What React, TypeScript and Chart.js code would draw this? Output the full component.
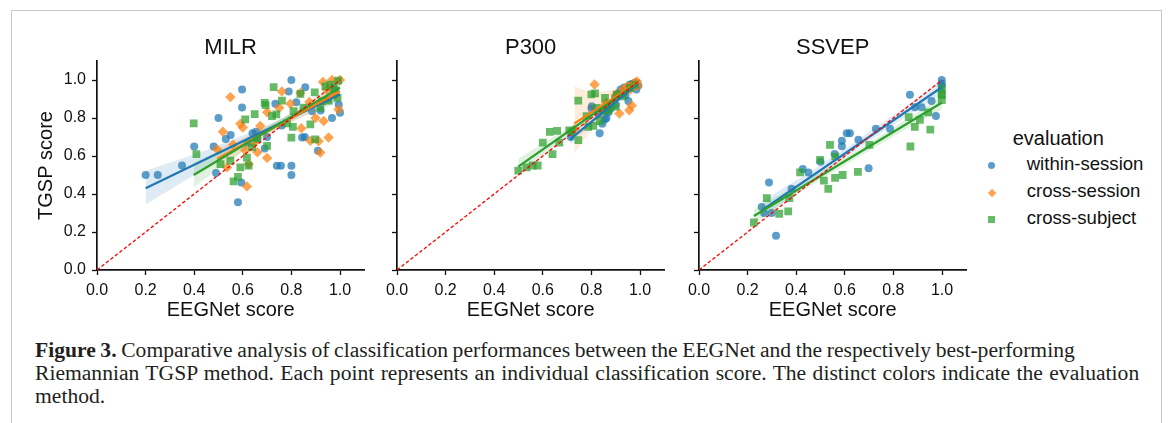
import React, { useEffect, useRef } from 'react';
import { Chart, registerables } from 'chart.js';

Chart.register(...registerables);

// ---------- tick values & labels ----------
const xTickValues = [0, 0.2, 0.4, 0.6, 0.8, 1.0];
const yTickValues = [0, 0.2, 0.4, 0.6, 0.8, 1.0];
const panelTitles = ['MILR', 'P300', 'SSVEP'];
const xAxisLabel = 'EEGNet score';
const yAxisLabel = 'TGSP score';
const legendTitle = 'evaluation';
const evaluationNames = ['within-session', 'cross-session', 'cross-subject'];
const diagonal = [[0, 0], [1, 1]];

// ---------- MILR ----------
const milrWithin = [[0.2,0.5],[0.25,0.5],[0.35,0.55],[0.4,0.65],[0.48,0.65],[0.49,0.51],[0.5,0.8],[0.53,0.69],[0.55,0.71],[0.594,0.46],[0.58,0.357],[0.597,0.95],[0.597,0.855],[0.62,0.67],[0.64,0.72],[0.654,0.727],[0.66,0.69],[0.69,0.64],[0.7,0.7],[0.734,0.875],[0.74,0.549],[0.757,0.549],[0.76,0.76],[0.789,0.94],[0.8,1.0],[0.8,0.549],[0.8,0.5],[0.82,0.883],[0.844,0.697],[0.855,0.70],[0.857,0.962],[0.885,0.836],[0.909,0.627],[0.92,0.84],[0.967,0.8],[0.98,0.95],[1.0,0.827],[0.995,0.87],[0.95,0.9]];
const milrCrossSession = [[0.494,0.636],[0.518,0.728],[0.535,0.54],[0.549,0.91],[0.56,0.66],[0.59,0.77],[0.6,0.75],[0.61,0.63],[0.617,0.44],[0.624,0.557],[0.645,0.667],[0.66,0.62],[0.672,0.758],[0.7,0.59],[0.7,0.83],[0.75,0.854],[0.761,0.94],[0.796,0.875],[0.837,0.932],[0.841,0.746],[0.874,0.885],[0.878,0.68],[0.899,0.8],[0.912,0.678],[0.919,0.618],[0.93,0.99],[0.933,0.784],[0.946,0.95],[0.953,0.697],[0.967,1.0],[0.98,0.923],[0.994,0.845],[1.0,1.0]];
const milrCrossSubject = [[0.398,0.772],[0.409,0.61],[0.508,0.557],[0.549,0.575],[0.562,0.467],[0.58,0.49],[0.59,0.54],[0.61,0.793],[0.617,0.592],[0.624,0.549],[0.638,0.645],[0.649,0.82],[0.658,0.693],[0.69,0.88],[0.694,0.868],[0.7,0.653],[0.727,0.962],[0.72,0.81],[0.738,0.819],[0.761,0.892],[0.782,0.772],[0.8,0.697],[0.809,0.836],[0.806,0.753],[0.837,0.927],[0.85,0.854],[0.878,0.767],[0.898,0.688],[0.896,0.935],[0.919,0.854],[0.926,0.889],[0.94,0.967],[0.96,0.976],[0.992,0.997],[0.99,0.906],[0.953,0.892],[0.974,0.958]];
const milrWithinFit = [[0.2,0.43],[1.0,0.925]];
const milrCrossSessionFit = [[0.494,0.585],[1.0,0.94]];
const milrCrossSubjectFit = [[0.398,0.5],[1.0,0.96]];
const milrWithinBandX = [0.2,0.45,0.7,0.85,1.0];
const milrWithinBandLo = [0.345,0.54,0.72,0.81,0.885];
const milrWithinBandHi = [0.523,0.63,0.76,0.855,0.965];
const milrCrossSessionBandX = [0.494,0.62,0.75,1.0];
const milrCrossSessionBandLo = [0.53,0.64,0.745,0.9];
const milrCrossSessionBandHi = [0.64,0.705,0.785,0.98];
const milrCrossSubjectBandX = [0.398,0.6,0.8,1.0];
const milrCrossSubjectBandLo = [0.435,0.625,0.79,0.925];
const milrCrossSubjectBandHi = [0.565,0.685,0.827,0.995];

// ---------- P300 ----------
const p300Within = [[0.715,0.7],[0.8,0.85],[0.802,0.862],[0.834,0.72],[0.845,0.77],[0.856,0.793],[0.862,0.8],[0.87,0.83],[0.88,0.85],[0.897,0.906],[0.91,0.93],[0.92,0.95],[0.935,0.96],[0.952,0.889],[0.959,0.976],[0.97,0.98],[0.98,0.985],[0.993,0.971],[0.985,0.95],[0.94,0.92],[0.9,0.87],[0.86,0.84],[0.83,0.82]];
const p300CrossSession = [[0.73,0.74],[0.813,0.976],[0.86,0.88],[0.9,0.92],[0.915,0.824],[0.93,0.95],[0.948,0.967],[0.956,0.841],[0.966,0.866],[0.975,0.98],[0.98,0.985],[0.987,0.993],[0.99,0.97],[0.96,0.95]];
const p300CrossSubject = [[0.499,0.523],[0.533,0.54],[0.558,0.55],[0.579,0.55],[0.6,0.67],[0.629,0.727],[0.64,0.61],[0.659,0.732],[0.668,0.67],[0.709,0.735],[0.721,0.726],[0.746,0.683],[0.746,0.892],[0.787,0.753],[0.78,0.81],[0.8,0.924],[0.815,0.93],[0.822,0.853],[0.808,0.758],[0.835,0.784],[0.849,0.836],[0.856,0.906],[0.863,0.862],[0.88,0.87],[0.904,0.923],[0.931,0.914],[0.959,0.958],[0.98,0.976],[0.9,0.86],[0.87,0.84]];
const p300WithinFit = [[0.712,0.688],[0.993,0.982]];
const p300CrossSessionFit = [[0.73,0.772],[0.993,0.99]];
const p300CrossSubjectFit = [[0.499,0.544],[0.98,0.975]];
const p300WithinBandX = [0.712,0.85,0.993];
const p300WithinBandLo = [0.66,0.82,0.97];
const p300WithinBandHi = [0.72,0.845,0.995];
const p300CrossSessionBandX = [0.73,0.8,0.9,0.993];
const p300CrossSessionBandLo = [0.613,0.74,0.88,0.97];
const p300CrossSessionBandHi = [0.967,0.93,0.95,1.01];
const p300CrossSubjectBandX = [0.499,0.75,0.98];
const p300CrossSubjectBandLo = [0.5,0.75,0.96];
const p300CrossSubjectBandHi = [0.585,0.785,0.99];

// ---------- SSVEP ----------
const ssvepWithin = [[0.258,0.331],[0.268,0.3],[0.288,0.46],[0.299,0.3],[0.317,0.18],[0.381,0.427],[0.427,0.532],[0.45,0.513],[0.5,0.57],[0.558,0.61],[0.588,0.651],[0.588,0.68],[0.608,0.72],[0.621,0.72],[0.656,0.685],[0.698,0.535],[0.728,0.744],[0.786,0.744],[0.868,0.923],[0.889,0.857],[0.916,0.857],[0.957,0.889],[0.975,0.81],[0.999,1.0],[0.999,0.967],[0.999,0.98]];
const ssvepCrossSubject = [[0.226,0.25],[0.279,0.378],[0.33,0.296],[0.367,0.308],[0.372,0.378],[0.416,0.514],[0.498,0.58],[0.514,0.47],[0.532,0.427],[0.539,0.659],[0.56,0.485],[0.561,0.597],[0.591,0.5],[0.654,0.517],[0.701,0.659],[0.863,0.805],[0.87,0.65],[0.888,0.753],[0.909,0.79],[0.943,0.83],[0.952,0.739],[0.999,0.894],[0.999,0.928],[0.999,0.955],[0.999,0.92]];
const ssvepWithinFit = [[0.258,0.314],[0.999,0.962]];
const ssvepCrossSubjectFit = [[0.226,0.284],[0.999,0.88]];
const ssvepWithinBandX = [0.258,0.45,0.65,0.85,0.999];
const ssvepWithinBandLo = [0.27,0.455,0.635,0.805,0.925];
const ssvepWithinBandHi = [0.36,0.51,0.68,0.86,1.0];
const ssvepCrossSubjectBandX = [0.226,0.45,0.65,0.85,0.999];
const ssvepCrossSubjectBandLo = [0.245,0.435,0.59,0.74,0.845];
const ssvepCrossSubjectBandHi = [0.32,0.48,0.63,0.79,0.915];

// ---------- styles ----------
const FONT = "'Liberation Sans', Arial, Helvetica, sans-serif";
const TEXT = '#111111';
const seriesStyle = [
  { rgb: '31,119,180', pointStyle: 'circle', radius: 4.0 },
  { rgb: '255,127,14', pointStyle: 'rectRot', radius: 5.2 },
  { rgb: '44,160,44', pointStyle: 'rect', radius: 5.5 },
];

type Series = { pts: number[][]; fit: number[][]; bx: number[]; lo: number[]; hi: number[] } | null;

const panels = [
  {
    title: panelTitles[0], left: 34, top: 21, width: 337, height: 301, yW: 63, yLabels: true,
    series: [
      { pts: milrWithin, fit: milrWithinFit, bx: milrWithinBandX, lo: milrWithinBandLo, hi: milrWithinBandHi },
      { pts: milrCrossSession, fit: milrCrossSessionFit, bx: milrCrossSessionBandX, lo: milrCrossSessionBandLo, hi: milrCrossSessionBandHi },
      { pts: milrCrossSubject, fit: milrCrossSubjectFit, bx: milrCrossSubjectBandX, lo: milrCrossSubjectBandLo, hi: milrCrossSubjectBandHi },
    ] as Series[],
  },
  {
    title: panelTitles[1], left: 380, top: 21, width: 291, height: 301, yW: 17, yLabels: false,
    series: [
      { pts: p300Within, fit: p300WithinFit, bx: p300WithinBandX, lo: p300WithinBandLo, hi: p300WithinBandHi },
      { pts: p300CrossSession, fit: p300CrossSessionFit, bx: p300CrossSessionBandX, lo: p300CrossSessionBandLo, hi: p300CrossSessionBandHi },
      { pts: p300CrossSubject, fit: p300CrossSubjectFit, bx: p300CrossSubjectBandX, lo: p300CrossSubjectBandLo, hi: p300CrossSubjectBandHi },
    ] as Series[],
  },
  {
    title: panelTitles[2], left: 682, top: 21, width: 291, height: 301, yW: 17, yLabels: false,
    series: [
      { pts: ssvepWithin, fit: ssvepWithinFit, bx: ssvepWithinBandX, lo: ssvepWithinBandLo, hi: ssvepWithinBandHi },
      null,
      { pts: ssvepCrossSubject, fit: ssvepCrossSubjectFit, bx: ssvepCrossSubjectBandX, lo: ssvepCrossSubjectBandLo, hi: ssvepCrossSubjectBandHi },
    ] as Series[],
  },
];

const toXY = (arr: number[][]) => arr.map(([x, y]) => ({ x, y }));

function buildDatasets(series: Series[]) {
  // listed from top-most to bottom-most (Chart.js draws index 0 last)
  const ds: any[] = [];
  ds.push({
    data: toXY(diagonal), showLine: true, borderColor: '#ff0000', borderWidth: 1.3,
    borderDash: [3.5, 2.2], pointRadius: 0, fill: false,
  });
  const order = [2, 1, 0];
  for (const i of order) {
    const s = series[i];
    if (!s) continue;
    ds.push({
      data: toXY(s.fit), showLine: true, borderColor: `rgb(${seriesStyle[i].rgb})`,
      borderWidth: 2.2, pointRadius: 0, fill: false,
    });
  }
  for (const i of order) {
    const s = series[i];
    if (!s) continue;
    const band = `rgba(${seriesStyle[i].rgb},0.15)`;
    ds.push({
      data: s.bx.map((x, k) => ({ x, y: s.hi[k] })), showLine: true, borderWidth: 0,
      borderColor: 'rgba(0,0,0,0)', pointRadius: 0, fill: '+1', backgroundColor: band,
    });
    ds.push({
      data: s.bx.map((x, k) => ({ x, y: s.lo[k] })), showLine: true, borderWidth: 0,
      borderColor: 'rgba(0,0,0,0)', pointRadius: 0, fill: false,
    });
    ds.push({
      data: toXY(s.pts), showLine: false, pointStyle: seriesStyle[i].pointStyle,
      pointRadius: seriesStyle[i].radius, pointBorderWidth: 0, borderWidth: 0,
      pointBackgroundColor: `rgba(${seriesStyle[i].rgb},0.72)`,
      backgroundColor: `rgba(${seriesStyle[i].rgb},0.72)`,
    });
  }
  return ds;
}

function Panel({ p }: { p: typeof panels[number] }) {
  const ref = useRef<HTMLCanvasElement | null>(null);
  useEffect(() => {
    if (!ref.current) return;
    const chartRight = 267.3 + p.yW; // x-range 0..1.1 spans 267.3 px
    const chart = new Chart(ref.current, {
      type: 'scatter',
      data: { datasets: buildDatasets(p.series) },
      options: {
        animation: false,
        responsive: false,
        events: [],
        layout: { padding: { left: 0, top: 0, bottom: 0, right: p.width - chartRight } },
        plugins: {
          legend: { display: false },
          tooltip: { enabled: false },
          title: {
            display: true, text: p.title, fullSize: false, color: TEXT,
            font: { family: FONT, size: 22, weight: 'normal' },
            padding: { top: 13.3, bottom: 0.3 },
          },
        },
        scales: {
          x: {
            type: 'linear', min: 0, max: 1.1,
            afterBuildTicks: (s: any) => { s.ticks = xTickValues.map((v) => ({ value: v })); },
            afterFit: (s: any) => { s.height = 52; },
            ticks: {
              callback: (v: any) => Number(v).toFixed(1), color: TEXT, padding: 5.5,
              font: { family: FONT, size: 16 }, maxRotation: 0, autoSkip: false,
            },
            grid: { display: true, drawOnChartArea: false, drawTicks: true, tickLength: 5, tickWidth: 1.3, tickColor: TEXT },
            border: { display: true, color: TEXT, width: 1.7 },
            title: { display: true, text: xAxisLabel, color: TEXT, font: { family: FONT, size: 20 }, padding: { top: 0, bottom: 0 } },
          },
          y: {
            type: 'linear', min: 0, max: 1.1,
            afterBuildTicks: (s: any) => { s.ticks = yTickValues.map((v) => ({ value: v })); },
            afterFit: (s: any) => { s.width = p.yW; },
            ticks: {
              callback: (v: any) => (p.yLabels ? Number(v).toFixed(1) : ''), color: TEXT, padding: 6,
              font: { family: FONT, size: 16 }, autoSkip: false,
            },
            grid: { display: true, drawOnChartArea: false, drawTicks: true, tickLength: 5, tickWidth: 1.3, tickColor: TEXT },
            border: { display: true, color: TEXT, width: 1.7 },
            title: { display: p.yLabels, text: yAxisLabel, color: TEXT, font: { family: FONT, size: 20 }, padding: { top: 0, bottom: 0 } },
          },
        },
      } as any,
    });
    return () => chart.destroy();
  }, [p]);
  return (
    <canvas
      ref={ref}
      width={p.width}
      height={p.height}
      style={{ position: 'absolute', left: p.left, top: p.top, width: p.width, height: p.height }}
    />
  );
}

function LegendMarker({ i }: { i: number }) {
  const c = `rgba(${seriesStyle[i].rgb},0.72)`;
  const base: React.CSSProperties = { position: 'absolute', background: c };
  if (i === 0) return <div style={{ ...base, left: -3.4, top: -3.4, width: 6.8, height: 6.8, borderRadius: '50%' }} />;
  if (i === 1) return <div style={{ ...base, left: -3.1, top: -3.1, width: 6.2, height: 6.2, transform: 'rotate(45deg)' }} />;
  return <div style={{ ...base, left: -3.3, top: -3.3, width: 6.6, height: 6.6 }} />;
}

export default function App() {
  const legendY = [165.7, 192.7, 219.3];
  return (
    <div style={{ position: 'absolute', left: 0, top: 0, width: 1171, height: 423, background: '#fff', overflow: 'hidden' }}>
      <div style={{ position: 'absolute', left: 11, top: 10, width: 1151, height: 440, border: '1px solid #c9c9c9', boxSizing: 'border-box' }} />
      {panels.map((p) => <Panel key={p.title} p={p} />)}
      <div style={{ position: 'absolute', left: 1012.7, top: 127.5, font: `20px ${FONT}`, lineHeight: '20px', color: TEXT, whiteSpace: 'nowrap' }}>
        {legendTitle}
      </div>
      {evaluationNames.map((name, i) => (
        <React.Fragment key={name}>
          <div style={{ position: 'absolute', left: 991.7, top: legendY[i], width: 0, height: 0 }}>
            <LegendMarker i={i} />
          </div>
          <div style={{ position: 'absolute', left: 1026.7, top: legendY[i] - 10.5, font: `18.6px ${FONT}`, lineHeight: '18.6px', color: TEXT, whiteSpace: 'nowrap' }}>
            {name}
          </div>
        </React.Fragment>
      ))}
      <div style={{ position: 'absolute', left: 35, top: 339, fontFamily: "'Liberation Serif', 'Times New Roman', serif", fontSize: 21.6, lineHeight: '23px', color: '#231f20', whiteSpace: 'nowrap' }}>
        <div style={{ wordSpacing: '-0.8px' }}><b>Figure 3.</b> Comparative analysis of classification performances between the EEGNet and the respectively best-performing</div>
        <div style={{ wordSpacing: '1px' }}>Riemannian TGSP method. Each point represents an individual classification score. The distinct colors indicate the evaluation</div>
        <div>method.</div>
      </div>
    </div>
  );
}
